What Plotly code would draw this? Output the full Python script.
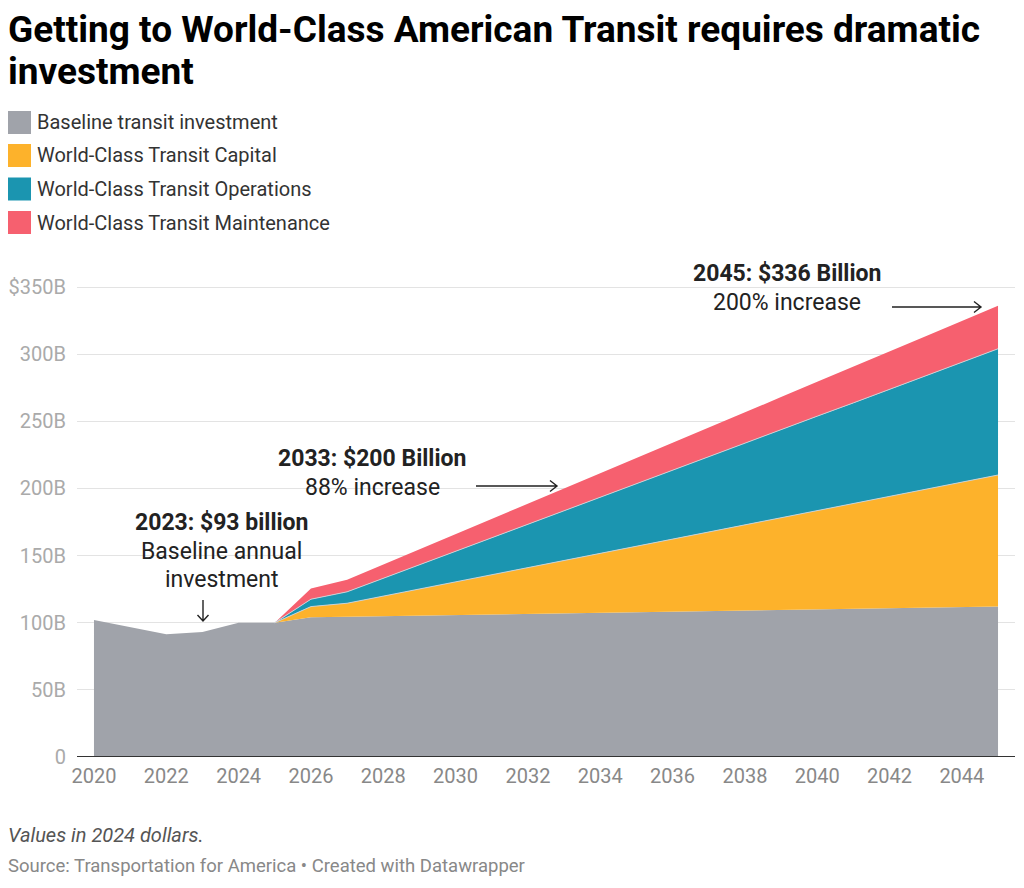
import plotly.graph_objects as go
import numpy as np

years = list(range(2020, 2046))
baseline = [102, 97, 91.5, 93, 100, 100, 104, 104.5, 104.9, 105.3, 105.8, 106.2, 106.6, 107,
            107.4, 107.8, 108.3, 108.7, 109.1, 109.5, 109.9, 110.3, 110.8, 111.2, 111.6, 112]
capital = [0, 0, 0, 0, 0, 0, 8, 10, 14.9, 19.8, 24.7, 29.6, 34.4, 39.3, 44.2, 49.1, 54,
           58.9, 63.8, 68.7, 73.6, 78.4, 83.3, 88.2, 93.1, 98]
operations = [0, 0, 0, 0, 0, 0, 5.5, 8.5, 13.3, 18, 22.8, 27.5, 32.3, 37, 41.8, 46.5, 51.3,
              56, 60.8, 65.5, 70.3, 75, 79.8, 84.5, 89.3, 94]
maintenance = [0, 0, 0, 0, 0, 0, 8, 9, 10.3, 11.6, 12.8, 14.1, 15.4, 16.7, 17.9, 19.2, 20.5,
               21.8, 23, 24.3, 25.6, 26.8, 28.1, 29.4, 30.7, 32]

series_names = ["Baseline transit investment", "World-Class Transit Capital",
                "World-Class Transit Operations", "World-Class Transit Maintenance"]
colors = ["#a0a3aa", "#fdb22b", "#1b95b0", "#f6606f"]

x_ticks = list(range(2020, 2045, 2))
y_ticks = [0, 50, 100, 150, 200, 250, 300, 350]
y_ticktext = ["0", "50B", "100B", "150B", "200B", "250B", "300B", "$350B"]

title_lines = ["Getting to World-Class American Transit requires dramatic", "investment"]
note = "Values in 2024 dollars."
source = "Source: Transportation for America • Created with Datawrapper"

# layout geometry (pixels)
W, H = 1024, 888
ML, MR, MT, MB = 77, 9, 280, 131
PW, PH = W - ML - MR, H - MT - MB
FONT = "Roboto, 'Open Sans', sans-serif"


def px(x):
    return (x - ML) / PW


def py(y):
    return (H - MB - y) / PH


fig = go.Figure()
for name, vals, col in zip(series_names, [baseline, capital, operations, maintenance], colors):
    fig.add_trace(go.Scatter(x=years, y=vals, name=name, stackgroup="one", mode="lines",
                             line=dict(width=0, color=col), fillcolor=col,
                             showlegend=False, hoverinfo="skip"))

# separator lines between stacked layers (from 2025 onward)
b = np.array(baseline)
c = np.array(capital)
o = np.array(operations)
start = years.index(2025)
for top in [b + c, b + c + o]:
    fig.add_trace(go.Scatter(x=years[start:], y=list(top[start:]), mode="lines",
                             line=dict(width=1, color="rgba(205,210,214,0.95)"),
                             showlegend=False, hoverinfo="skip"))

annotations = []
shapes = []

# Title
for i, t in enumerate(title_lines):
    annotations.append(dict(text=f"<b>{t}</b>", x=px(6), y=py([30, 71][i]), xref="paper",
                            yref="paper", xanchor="left", yanchor="middle", showarrow=False,
                            font=dict(family=FONT, size=37, color="#000000")))

# Legend
leg_y = [122.5, 155.5, 189, 222.5]
for name, col, yy in zip(series_names, colors, leg_y):
    shapes.append(dict(type="rect", xref="paper", yref="paper", x0=px(8), x1=px(31),
                       y0=py(yy - 11.5), y1=py(yy + 11.5), fillcolor=col, line=dict(width=0)))
    annotations.append(dict(text=name, x=px(35), y=py(yy), xref="paper", yref="paper",
                            xanchor="left", yanchor="middle", showarrow=False,
                            font=dict(family=FONT, size=20, color="#333333")))

# chart annotations
notes = [
    ("<b>2023: $93 billion</b>", 221, 522),
    ("Baseline annual", 221, 551),
    ("investment", 221, 579),
    ("<b>2033: $200 Billion</b>", 372, 458),
    ("88% increase", 372, 487),
    ("<b>2045: $336 Billion</b>", 787, 273),
    ("200% increase", 787, 302),
]
for t, xx, yy in notes:
    annotations.append(dict(text=t, x=px(xx), y=py(yy), xref="paper", yref="paper",
                            xanchor="center", yanchor="middle", showarrow=False,
                            font=dict(family=FONT, size=23, color="#222222")))


def path_shape(pts_list):
    segs = []
    for pts in pts_list:
        segs.append("M " + " L ".join(f"{px(a):.5f},{py(bb):.5f}" for a, bb in pts))
    return dict(type="path", xref="paper", yref="paper", path=" ".join(segs),
                line=dict(color="#222222", width=1.4))


# down arrow at 2023
shapes.append(path_shape([[(203, 600), (203, 621)], [(197.5, 615), (203, 621), (208.5, 615)]]))
# right arrows
shapes.append(path_shape([[(476, 486), (557, 486)], [(550, 480.5), (557, 486), (550, 491.5)]]))
shapes.append(path_shape([[(892, 307), (981, 307)], [(974, 301.5), (981, 307), (974, 312.5)]]))

# zero baseline
shapes.append(dict(type="line", xref="paper", yref="y", x0=0, x1=1, y0=0, y1=0,
                   line=dict(color="#333333", width=2)))

# footer
annotations.append(dict(text=f"<i>{note}</i>", x=px(6), y=py(835), xref="paper", yref="paper",
                        xanchor="left", yanchor="middle", showarrow=False,
                        font=dict(family=FONT, size=20, color="#555555")))
annotations.append(dict(text=source, x=px(6), y=py(866), xref="paper", yref="paper",
                        xanchor="left", yanchor="middle", showarrow=False,
                        font=dict(family=FONT, size=18.5, color="#888888")))

y_top = 350 + (287 - MT) / (470 / 350)

fig.update_layout(
    width=W, height=H,
    margin=dict(l=ML, r=MR, t=MT, b=MB, autoexpand=False),
    paper_bgcolor="white", plot_bgcolor="white",
    showlegend=False,
    xaxis=dict(range=[2020 - 17 / 36.2, 2045 + 17 / 36.2], tickvals=x_ticks,
               ticktext=[str(v) for v in x_ticks], showgrid=False, zeroline=False,
               showline=False, ticks="", ticklabelstandoff=5,
               tickfont=dict(family=FONT, size=20, color="#888888")),
    yaxis=dict(range=[0, y_top], tickvals=y_ticks, ticktext=y_ticktext, showgrid=True,
               gridcolor="#e3e3e3", gridwidth=1, zeroline=False, showline=False, ticks="",
               ticklabelstandoff=10,
               tickfont=dict(family=FONT, size=20, color="#aaaaaa")),
    annotations=annotations,
    shapes=shapes,
)

fig.write_html("out.html")
